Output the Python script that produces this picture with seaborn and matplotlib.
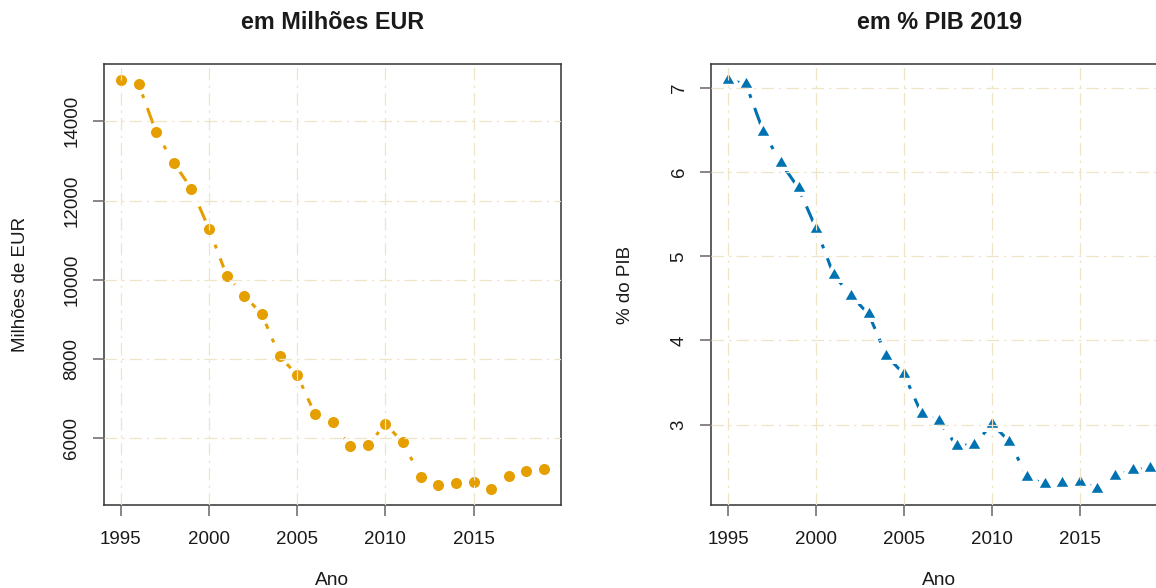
import numpy as np
import matplotlib
matplotlib.use("Agg")
import matplotlib.pyplot as plt
import seaborn as sns

# Series: public investment, 1995-2019
anos = [1995, 1996, 1997, 1998, 1999, 2000, 2001, 2002, 2003, 2004, 2005, 2006,
        2007, 2008, 2009, 2010, 2011, 2012, 2013, 2014, 2015, 2016, 2017, 2018, 2019]
milhoes_eur = [15035, 14944, 13722, 12949, 12300, 11283, 10104, 9599, 9127, 8066,
               7596, 6612, 6410, 5811, 5819, 6359, 5895, 5021, 4809, 4860, 4885,
               4726, 5036, 5172, 5213]
pct_pib = [7.09, 7.05, 6.48, 6.11, 5.81, 5.33, 4.78, 4.53, 4.31, 3.82, 3.60, 3.13,
           3.04, 2.75, 2.76, 3.01, 2.80, 2.38, 2.29, 2.31, 2.32, 2.24, 2.39, 2.46, 2.48]

xticks = [1995, 2000, 2005, 2010, 2015]
yticks_eur = [6000, 8000, 10000, 12000, 14000]
yticks_pib = [3, 4, 5, 6, 7]

titulos = ["em Milhões EUR", "em % PIB 2019"]
ylabels = ["Milhões de EUR", "% do PIB"]
xlabel = "Ano"

sns.set_theme(style="white")
plt.rcParams["font.family"] = ["Liberation Sans", "DejaVu Sans"]

ORANGE = "#E69F00"
BLUE = "#0072B2"
GRID = "#EEE4C6"
SPINE = "#333333"
TICK = "#666666"
TXT = "#1a1a1a"

fig = plt.figure(figsize=(11.56, 5.88), dpi=100)
W, H = 1156.0, 588.0
ax1 = fig.add_axes([104 / W, (H - 505) / H, (561 - 104) / W, (505 - 64) / H])
ax2 = fig.add_axes([711.3 / W, (H - 505) / H, (1167 - 711.3) / W, (505 - 64) / H])

# equilateral triangle, centred on its centroid
tri = [(0, 1.1547), (-1, -0.57735), (1, -0.57735), (0, 1.1547)]


def r_limits(v):
    lo, hi = min(v), max(v)
    pad = 0.04 * (hi - lo)
    return lo - pad, hi + pad


def draw(ax, y, color, marker, ms, mew, yticks, title, ylabel, ylab_x):
    sns.lineplot(x=anos, y=y, ax=ax, color=color, lw=2.2, marker=marker,
                 markersize=ms, markerfacecolor=color, markeredgecolor="white",
                 markeredgewidth=mew, errorbar=None)
    ln = ax.get_lines()[0]
    # dot-dash pattern: long dash, gap, dot, gap
    ln.set_linestyle((4, (10, 3.5, 1.3, 3.5)))

    ax.set_xlim(r_limits(anos))
    ax.set_ylim(r_limits(y))
    ax.set_xticks(xticks)
    ax.set_yticks(yticks)
    ax.set_xticklabels([str(t) for t in xticks])
    ax.set_yticklabels([str(t) for t in yticks])

    ax.set_axisbelow(False)
    ax.grid(True, color=GRID, lw=0.9, linestyle=(0, (10, 4, 2, 4)))

    for s in ax.spines.values():
        s.set_color(SPINE)
        s.set_linewidth(1.1)

    ax.tick_params(axis="both", which="major", direction="out", length=8,
                   width=1.1, color=TICK, labelsize=13.5, labelcolor=TXT,
                   bottom=True, left=True)
    ax.tick_params(axis="x", pad=11)
    ax.tick_params(axis="y", pad=9)
    plt.setp(ax.get_yticklabels(), rotation=90, va="center", ha="right")

    ax.set_title(title, fontsize=16.8, fontweight="bold", color=TXT, pad=25)

    ax.set_xlabel(xlabel, fontsize=13.8, color=TXT)
    ax.xaxis.label.set_va("top")
    ax.xaxis.set_label_coords(0.5, (505 - 572) / 441)

    ax.set_ylabel(ylabel, fontsize=13.5, color=TXT)
    ax.yaxis.label.set_va("center")
    ax.yaxis.set_label_coords(ylab_x, 0.5)


draw(ax1, milhoes_eur, ORANGE, "o", 11.2, 3.2, yticks_eur,
     titulos[0], ylabels[0], (21 - 104) / 457)
draw(ax2, pct_pib, BLUE, tri, 15.5, 3.0, yticks_pib,
     titulos[1], ylabels[1], (626 - 711.3) / 455.7)

fig.savefig("out.png", dpi=100, facecolor="white")
